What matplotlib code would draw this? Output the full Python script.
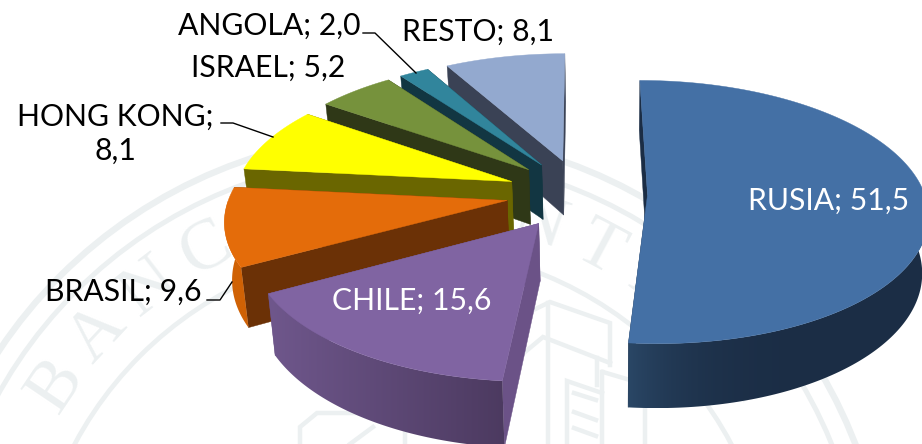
"""3D exploded pie chart, drawn by hand because matplotlib pies are flat."""
import numpy as np
import matplotlib
matplotlib.use('Agg')
import matplotlib.pyplot as plt
from matplotlib.colors import to_rgb
from matplotlib.patches import Polygon, Circle

labels = ["RUSIA", "CHILE", "BRASIL", "HONG KONG", "ISRAEL", "ANGOLA", "RESTO"]
values = [51.5, 15.6, 9.6, 8.1, 5.2, 2.0, 8.1]
explode = [0.24, 0.27, 0.27, 0.27, 0.27, 0.27, 0.27]
top_colors = ["#4470A5", "#8064A2", "#E46C0A", "#FFFF00", "#76923C", "#31859C", "#93A9CF"]
wall_colors = ["#1B2D45", "#6B5287", "#6B3106", "#6A6600", "#2F3817", "#123642", "#3A4255"]
rim_left = ["#2A4766", "#6F578C", "#D06205", "#6A6600", "#2F3817", "#123642", "#3A4255"]
rim_right = ["#1B2D45", "#4C3A60", "#D06205", "#6A6600", "#2F3817", "#123642", "#3A4255"]
rim_power = [5, 1, 1, 1, 1, 1, 1]

# projection of the pie in pixels
CX, CY = 581, 193.5
A, B = 277, 129
PERSP = 0.13
DEPTH = 56
VANISH_X = 610
WM = "#ECF0F1"


def project(theta, radius, mid, push):
    """theta clockwise from 12 o'clock, radians; the slice is pushed out along mid."""
    u = push * np.sin(mid) + radius * np.sin(theta)
    v = -push * np.cos(mid) - radius * np.cos(theta)
    s = 1 / (1 - PERSP * v)
    return np.column_stack([CX + A * u * s, CY + B * v * s]), s


def extrude(pts, s):
    out = pts.copy()
    out[:, 0] += 0.02 * (VANISH_X - pts[:, 0])
    out[:, 1] += DEPTH * s
    return out


def draw_rim(ax, arc, arc_low, c_left, c_right, power):
    outline = np.vstack([arc, arc_low[::-1]])
    clip = Polygon(outline, fc="none", ec="none", zorder=2)
    ax.add_patch(clip)
    # the shading runs left to right across the visible rim
    f = (1 - np.linspace(0, 1, 256)) ** power
    img = np.array(to_rgb(c_left)) * f[:, None] + np.array(to_rgb(c_right)) * (1 - f[:, None])
    x0, x1 = outline[:, 0].min(), outline[:, 0].max()
    y0, y1 = outline[:, 1].min(), outline[:, 1].max()
    im = ax.imshow(img[None, :, :], extent=[x0, x1, y1, y0], aspect="auto", zorder=2)
    im.set_clip_path(clip)


def draw_slice(ax, t0, t1, push, top, wall, c_left, c_right, power):
    mid = (t0 + t1) / 2
    thetas = np.linspace(t0, t1, 200)
    arc, s = project(thetas, 1.0, mid, push)
    apex, s_apex = project(np.array([mid]), 0.0, mid, push)
    arc_low = extrude(arc, s)
    apex_low = extrude(apex, s_apex)

    # straight walls
    for i in (0, -1):
        quad = [apex[0], arc[i], arc_low[i], apex_low[0]]
        ax.add_patch(Polygon(quad, fc=wall, ec=wall, lw=0.3, zorder=2))

    # rim, only the part facing the viewer
    vis = np.cos(thetas) < 0
    if vis.any():
        draw_rim(ax, arc[vis], arc_low[vis], c_left, c_right, power)

    ax.add_patch(Polygon(np.vstack([apex, arc]), fc=top, ec=top, lw=0.3, zorder=2))


def draw_watermark(ax):
    cx, cy = 403, 619
    for r, w in [(485, 4.6), (463, 3.6), (372, 3.4)]:
        ax.add_patch(Circle((cx, cy), r, fc="none", ec=WM, lw=w, zorder=1))
    letters = "BANCO" + "CENTRAL"
    angles = [-56, -47, -37.5, -28, -19, 1, 10, 19, 28, 37, 46, 55]
    for ch, ang in zip(letters, angles):
        a = np.radians(ang)
        ax.text(cx + 418 * np.sin(a), cy - 418 * np.cos(a), ch, fontsize=52, color=WM, rotation=-ang,
                ha="center", va="center", family="Liberation Serif", zorder=1)
    # building
    segments = [([527, 550, 610, 610], [313, 302, 323, 365]), ([548, 548], [303, 444]),
                ([525, 543, 610], [352, 337, 363]), ([597, 597], [358, 385]),
                ([603, 630], [372, 380]), ([567, 567, 602], [444, 381, 393]), ([602, 602], [372, 444]),
                ([574, 596], [393, 400]), ([574, 596], [412, 420]), ([574, 596], [428, 436]),
                ([300, 300, 317, 357], [444, 427, 413, 413]), ([350, 373], [444, 427]),
                ([405, 405], [425, 444]), ([645, 645], [410, 444])]
    for xs, ys in segments:
        ax.plot(xs, ys, color=WM, lw=3.2, zorder=1, solid_joinstyle="miter")


fig = plt.figure(figsize=(9.22, 4.44), dpi=100, facecolor="white")
ax = fig.add_axes([0, 0, 1, 1])

draw_watermark(ax)

edges = np.cumsum([0] + values) / np.sum(values) * 2 * np.pi
order = [6, 5, 4, 3, 2, 1, 0]
for i in order:
    draw_slice(ax, edges[i], edges[i + 1], explode[i], top_colors[i], wall_colors[i],
               rim_left[i], rim_right[i], rim_power[i])

text_pos = {
    "RUSIA": (829, 201, "center", "white"),
    "CHILE": (412, 301, "center", "white"),
    "BRASIL": (202, 292, "right", "black"),
    "HONG KONG": (115, 134, "center", "black"),
    "ISRAEL": (345, 68, "right", "black"),
    "ANGOLA": (360, 26, "right", "black"),
    "RESTO": (478, 32, "center", "black"),
}
for name, val in zip(labels, values):
    x, y, ha, col = text_pos[name]
    num = f"{val:.1f}".replace(".", ",")
    sep = ";\n" if name == "HONG KONG" else "; "
    ax.text(x, y, f"{name}{sep}{num}", fontsize=21.7, family="Lato", color=col, ha=ha, va="center",
            multialignment="center", linespacing=1.28, zorder=3)

for xs, ys in [([363, 375, 416], [33, 33, 73]), ([221, 233, 273], [123, 123, 137]), ([207, 220, 232], [300, 300, 282])]:
    ax.plot(xs, ys, color="black", lw=1, zorder=3)

ax.set_xlim(0, 922)
ax.set_ylim(444, 0)
ax.axis("off")

fig.savefig("out.png", dpi=100, facecolor="white")
